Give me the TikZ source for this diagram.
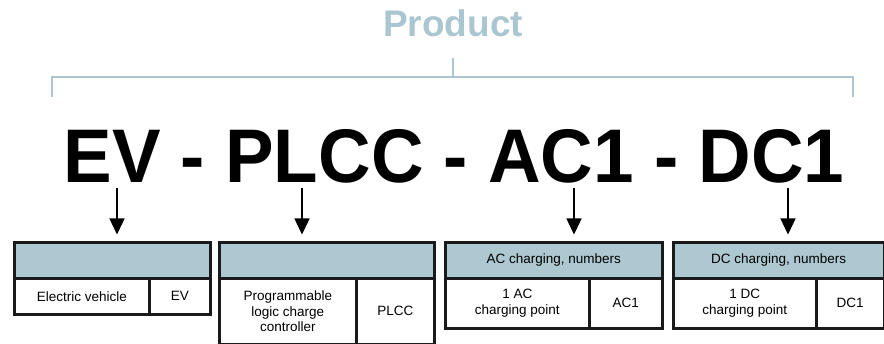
\documentclass[tikz,border=0pt]{standalone}
\usepackage{fontspec}
\setmainfont{Liberation Sans}
\newfontfamily\codefont[FakeStretch=0.958]{Liberation Sans Bold}
\usetikzlibrary{arrows.meta}
\definecolor{prodblue}{HTML}{AAC6D0}
\definecolor{hdrblue}{HTML}{AEC8D1}
\definecolor{boxline}{HTML}{1A1A1A}
\tikzset{
  cell/.style={draw=boxline, line width=2.6pt, anchor=north west, inner sep=0pt,
    align=center, font=\fontsize{13.5}{15.5}\selectfont, text=black},
  hdr/.style={cell, fill=hdrblue},
  body/.style={cell, fill=white},
  pointer/.style={draw=black, line width=1.3pt, -{Triangle[width=15pt,length=16pt]}},
  brace/.style={draw=prodblue, line width=2pt},
}
\begin{document}
\begin{tikzpicture}[x=1pt,y=-1pt]
\useasboundingbox (0,0) rectangle (884,344);
% title
\node[anchor=base, text=prodblue, font=\fontsize{37}{40}\selectfont\bfseries] (prod) at (453,37) {Product};
\coordinate (bl) at (52,97);
\coordinate (br) at (853,97);
\coordinate (bt) at (453,58);
\draw[brace] (bl) -- (bl |- 0,77) -- (br |- 0,77) -- (br);
\draw[brace] (bt) -- (bt |- 0,77);
% code
\node[anchor=base, font=\codefont\fontsize{76}{80}\selectfont] (code) at (454,183) {EV - PLCC - AC1 - DC1};
% box 1
\node[hdr, minimum width=196pt, minimum height=36pt] (h1) at (13,241) {};
\node[body, minimum width=135pt, minimum height=36pt] (l1) at (13,277) {Electric vehicle};
\node[body, minimum width=61pt, minimum height=36pt] (r1) at (148,277) {EV};
% box 2
\node[hdr, minimum width=215pt, minimum height=36pt] (h2) at (218,241) {};
\node[body, minimum width=137pt, minimum height=66pt] (l2) at (218,277) {Programmable\\logic charge\\controller};
\node[body, minimum width=78pt, minimum height=66pt] (r2) at (355,277) {PLCC};
% box 3
\node[hdr, minimum width=217pt, minimum height=36pt] (h3) at (444,241) {AC charging, numbers};
\node[body, minimum width=144pt, minimum height=50pt] (l3) at (444,277) {1 AC\\charging point};
\node[body, minimum width=73pt, minimum height=50pt] (r3) at (588,277) {AC1};
% box 4
\node[hdr, minimum width=210.5pt, minimum height=36pt] (h4) at (672,241) {DC charging, numbers};
\node[body, minimum width=143pt, minimum height=50pt] (l4) at (672,277) {1 DC\\charging point};
\node[body, minimum width=67.5pt, minimum height=50pt] (r4) at (815,277) {DC1};
% arrows
\coordinate (a1) at (117,188);
\coordinate (a2) at (302,188);
\coordinate (a3) at (574,188);
\coordinate (a4) at (788,188);
\draw[pointer, shorten >=6.5pt] (a1) -- (a1 |- h1.north);
\draw[pointer, shorten >=6.5pt] (a2) -- (a2 |- h2.north);
\draw[pointer, shorten >=6.5pt] (a3) -- (a3 |- h3.north);
\draw[pointer, shorten >=6.5pt] (a4) -- (a4 |- h4.north);
\end{tikzpicture}
\end{document}
